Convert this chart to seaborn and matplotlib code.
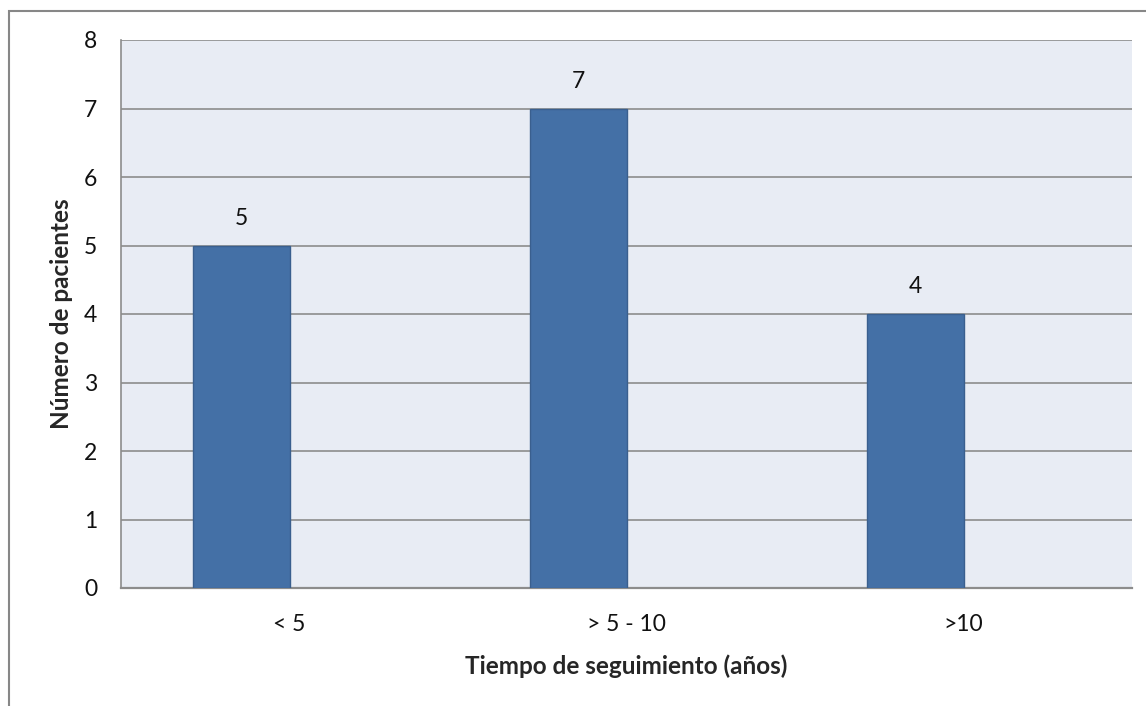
import matplotlib
matplotlib.use("Agg")
import matplotlib.pyplot as plt
import seaborn as sns
import pandas as pd
from matplotlib.patches import Rectangle

categorias = ["< 5", "> 5 - 10", ">10"]
pacientes = [5, 7, 4]
series = ["Pacientes", "Reserva"]

sns.set_style("white")
plt.rcParams["font.family"] = ["Lato", "DejaVu Sans"]

df = pd.DataFrame({
    "tiempo": categorias,
    "n": pacientes,
    "serie": [series[0]] * len(categorias),
})

fig = plt.figure(figsize=(11.46, 7.06), dpi=100)
ax = fig.add_axes([121 / 1146, 1 - 588 / 706, 1011 / 1146, 548 / 706])
ax.set_facecolor("#E8ECF4")

sns.barplot(
    data=df, x="tiempo", y="n", hue="serie", hue_order=series,
    order=categorias, palette=["#4470A6", "#C0504D"], width=0.574,
    saturation=1, dodge=True, edgecolor="#3A5F8E", linewidth=1.0,
    legend=False, ax=ax, zorder=3,
)

ax.set_ylim(0, 8)
ax.set_xlim(-0.5, len(categorias) - 0.5)
ax.set_yticks(range(0, 9))
ax.yaxis.grid(True, color="#8C8C8C", linewidth=1.2, zorder=0)
ax.set_axisbelow(True)

for s in ["top", "right"]:
    ax.spines[s].set_visible(False)
ax.spines["left"].set_color("#8C8C8C")
ax.spines["left"].set_linewidth(1.2)
ax.spines["bottom"].set_color("#8C8C8C")
ax.spines["bottom"].set_linewidth(1.6)

ax.tick_params(axis="y", length=8, width=1.2, color="#8C8C8C", labelsize=16.5, pad=9, labelcolor="#111111")
ax.tick_params(axis="x", length=0, labelsize=16.5, pad=19, labelcolor="#111111")

for cont in ax.containers:
    ax.bar_label(cont, fmt="%d", padding=12, fontsize=16.5, color="#111111")

ax.set_xlabel("Tiempo de seguimiento (años)", fontsize=17.5, fontweight="bold", labelpad=14)
ax.set_ylabel("Número de pacientes", fontsize=17.5, fontweight="bold", labelpad=8)

fig.add_artist(Rectangle((8.5 / 1146, -0.05), 1.2, 1 - 11 / 706 + 0.05,
                         transform=fig.transFigure, fill=False,
                         edgecolor="#878787", linewidth=1.5))

fig.savefig("out.png", dpi=100)
